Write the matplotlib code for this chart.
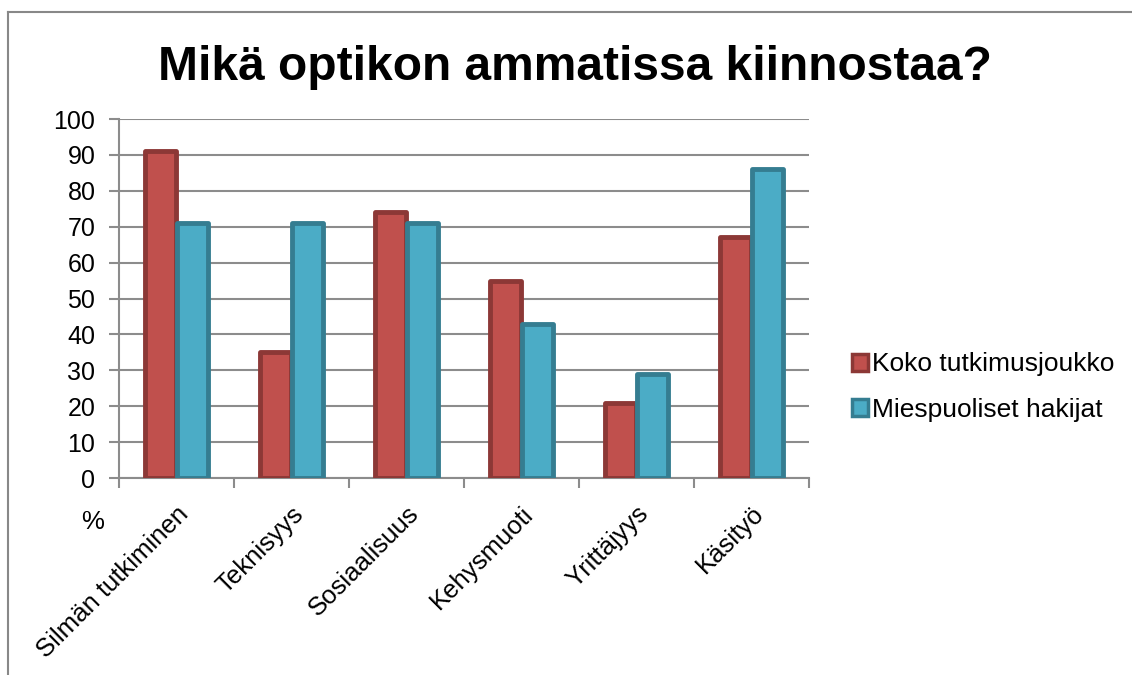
import numpy as np
import matplotlib.pyplot as plt
from matplotlib.patches import Patch
from matplotlib.lines import Line2D

plt.rcParams['font.family'] = ['Liberation Sans', 'DejaVu Sans']

categories = ["Silmän tutkiminen", "Teknisyys", "Sosiaalisuus", "Kehysmuoti", "Yrittäjyys", "Käsityö"]
koko = [91, 35, 74, 55, 21, 67]
miehet = [71, 71, 71, 43, 29, 86]
series_names = ["Koko tutkimusjoukko", "Miespuoliset hakijat"]

red_face, red_edge = "#C0504D", "#8C3836"
blue_face, blue_edge = "#4BACC6", "#357D91"
grid_col = "#8C8C8C"

fig = plt.figure(figsize=(11.32, 6.75), dpi=100)
ax = fig.add_axes([119 / 1132, 1 - 478 / 675, 690 / 1132, 359 / 675])

x = np.arange(len(categories))
w = 0.27
ax.bar(x - 0.137, koko, w, color=red_face, edgecolor=red_edge, linewidth=3.5,
       joinstyle='round', zorder=3)
ax.bar(x + 0.137, miehet, w, color=blue_face, edgecolor=blue_edge, linewidth=3.5,
       joinstyle='round', zorder=3)

ax.set_xlim(-0.5, len(categories) - 0.5)
ax.set_ylim(0, 100)
ax.set_yticks(range(0, 101, 10))
ax.tick_params(axis='y', labelsize=18, length=7, width=1.5, color=grid_col, pad=10)
ax.yaxis.grid(True, color=grid_col, linewidth=1.5, zorder=0)

# category boundaries as major ticks, labels at minor positions
ax.set_xticks(np.arange(-0.5, len(categories), 1.0))
ax.set_xticklabels([])
ax.set_xticks(x, minor=True)
ax.set_xticklabels(categories, minor=True, rotation=45, ha='right',
                   rotation_mode='anchor', fontsize=18.5)
ax.tick_params(axis='x', which='major', length=7, width=1.5, color=grid_col)
ax.tick_params(axis='x', which='minor', length=0, pad=17)

for s in ['top', 'right']:
    ax.spines[s].set_visible(False)
for s in ['left', 'bottom']:
    ax.spines[s].set_color(grid_col)
    ax.spines[s].set_linewidth(1.5)
ax.set_axisbelow(True)

fig.text(575 / 1132, 1 - 68 / 675, "Mikä optikon ammatissa kiinnostaa?",
         ha='center', va='center', fontsize=34.5, fontweight='bold')
fig.text(93 / 1132, 1 - 522 / 675, "%", ha='center', va='center', fontsize=18.5)

handles = [Patch(facecolor=red_face, edgecolor=red_edge, linewidth=2.5),
           Patch(facecolor=blue_face, edgecolor=blue_edge, linewidth=2.5)]
fig.legend(handles, series_names, loc='center left',
           bbox_to_anchor=(841 / 1132, 1 - 387 / 675), frameon=False,
           fontsize=19, handlelength=0.62, handleheight=0.62,
           handletextpad=0.15, labelspacing=0.8, borderaxespad=0)

# outer chart frame
fig.add_artist(Line2D([8 / 1132, 8 / 1132], [0, 1 - 12 / 675], color="#888888",
                      linewidth=1.5, transform=fig.transFigure))
fig.add_artist(Line2D([8 / 1132, 1], [1 - 12 / 675, 1 - 12 / 675], color="#888888",
                      linewidth=1.5, transform=fig.transFigure))

fig.savefig("out.png", dpi=100, facecolor='white')
